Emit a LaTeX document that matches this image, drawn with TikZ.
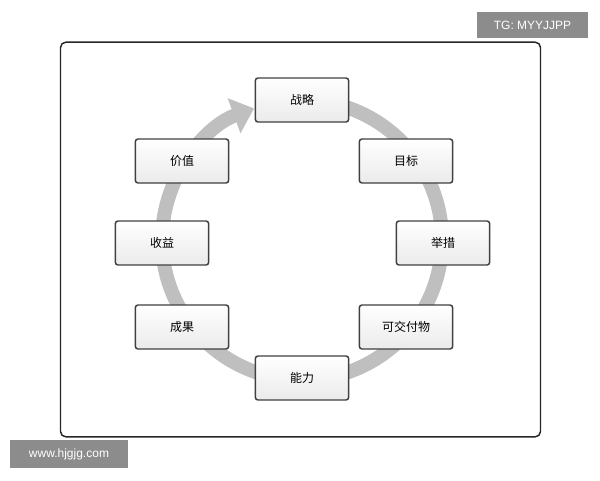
\documentclass[tikz,border=0pt]{standalone}
\usepackage{fontspec}
\newfontfamily\cjk{Noto Sans CJK SC}
\setsansfont{Liberation Sans}
\usetikzlibrary{arrows.meta}

\begin{document}
\begin{tikzpicture}[
    x=0.75pt, y=0.75pt,
    stage/.style={rectangle, draw=black!75, line width=1.1pt, rounded corners=2pt,
        top color=white, bottom color=black!8, minimum width=70pt, minimum height=33pt,
        font=\cjk\small},
    stamp/.style={rectangle, fill=black!45, text=white, font=\sffamily\small, inner sep=0pt},
    cyclearrow/.style={line width=10.5pt, draw=black!25, -{Triangle[width=27pt, length=16pt]}}
]
\useasboundingbox (0,0) rectangle (600,480);

% frame
\node[draw=black!85, line width=1.1pt, rounded corners=4pt, minimum width=360pt,
      minimum height=296pt] (frame) at (300.5,240.5) {};

% cycle arrow
\coordinate (hub) at (302,240);
\draw[cyclearrow] ([shift={(80:140)}]hub) arc[start angle=80, end angle=-250, radius=140];

% stages
\node[stage] (strategy) at (302,380) {战略};
\node[stage] (goal) at (406,319) {目标};
\node[stage] (measure) at (443,237) {举措};
\node[stage] (deliver) at (406,153) {可交付物};
\node[stage] (ability) at (302,102) {能力};
\node[stage] (result) at (182,153) {成果};
\node[stage] (benefit) at (162,237) {收益};
\node[stage] (value) at (182,319) {价值};

% watermarks
\node[stamp, minimum width=83pt, minimum height=20pt] (tg) at (532.5,455) {TG: MYYJJPP};
\node[stamp, minimum width=88pt, minimum height=21pt] (web) at (69,26) {www.hjgjg.com};
\end{tikzpicture}
\end{document}
